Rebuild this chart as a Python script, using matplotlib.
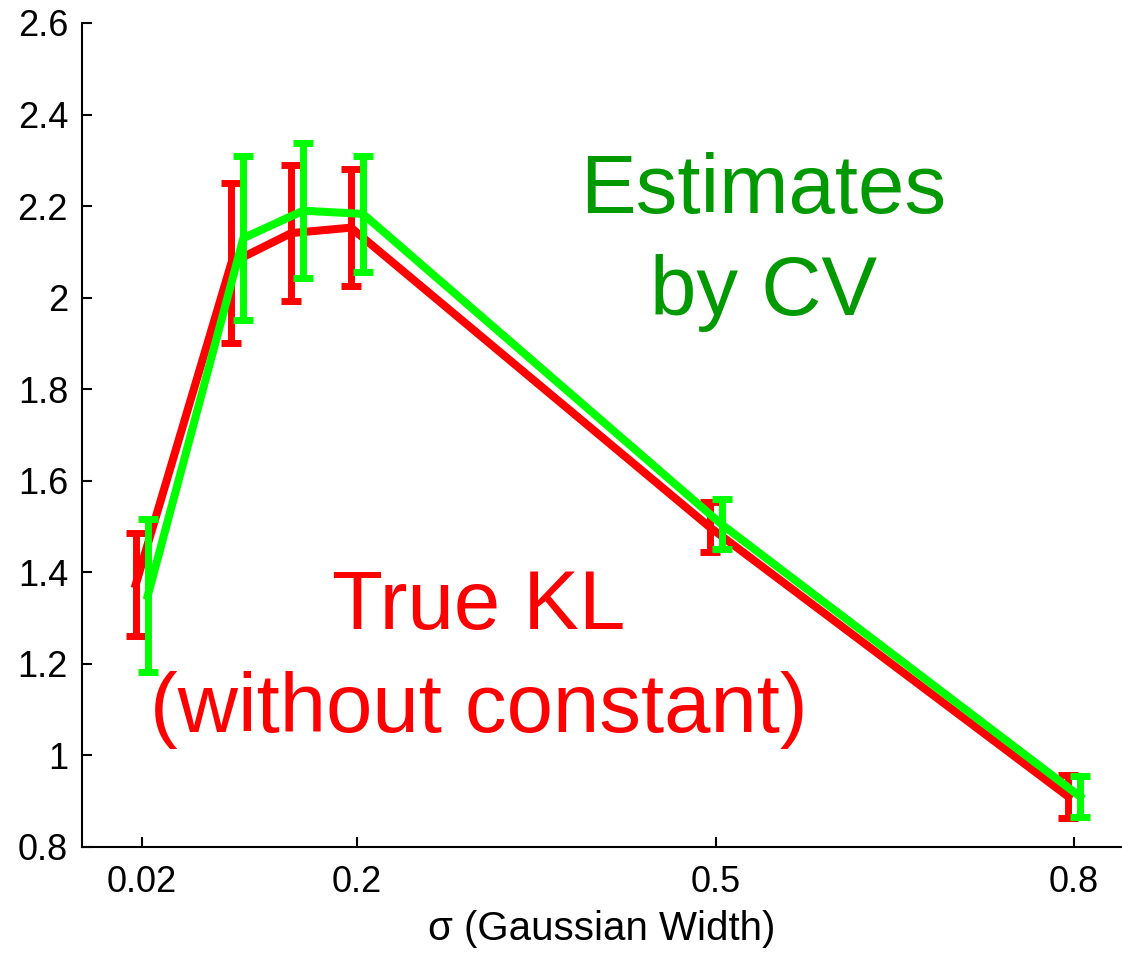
import matplotlib
matplotlib.use("Agg")
import matplotlib.pyplot as plt
from matplotlib.ticker import FuncFormatter

plt.rcParams['font.family'] = ['Liberation Sans', 'DejaVu Sans']

# Gaussian width values
sigma = [0.02, 0.1, 0.15, 0.2, 0.5, 0.8]

# True KL (without constant): mean and error-bar half-width
true_kl = [1.374, 2.076, 2.141, 2.153, 1.499, 0.910]
true_kl_err = [0.113, 0.175, 0.149, 0.128, 0.055, 0.047]

# Estimates by cross-validation: mean and error-bar half-width
cv_est = [1.349, 2.130, 2.190, 2.183, 1.505, 0.910]
cv_est_err = [0.167, 0.179, 0.147, 0.126, 0.055, 0.045]

xticks = [0.02, 0.2, 0.5, 0.8]
xtick_labels = ['0.02', '0.2', '0.5', '0.8']
yticks = [0.8, 1.0, 1.2, 1.4, 1.6, 1.8, 2.0, 2.2, 2.4, 2.6]

shift = 0.005  # small horizontal dodge so the two series' bars don't overlap

fig = plt.figure(figsize=(11.22, 9.57), dpi=100)
ax = fig.add_axes([82 / 1122, 110 / 957, 1040 / 1122, 824 / 957])

common = dict(linewidth=5.8, elinewidth=5.0, capsize=7.5, capthick=5.0)
ax.errorbar([s - shift for s in sigma], true_kl, yerr=true_kl_err,
            color='#ff0000', zorder=2, **common)
ax.errorbar([s + shift for s in sigma], cv_est, yerr=cv_est_err,
            color='#00ff00', zorder=3, **common)

ax.set_xlim(-0.030, 0.84)
ax.set_ylim(0.8, 2.6)
ax.set_xticks(xticks)
ax.set_xticklabels(xtick_labels)
ax.set_yticks(yticks)
ax.yaxis.set_major_formatter(FuncFormatter(lambda v, p: f'{v:g}'))

for side in ('top', 'right'):
    ax.spines[side].set_visible(False)
for side in ('left', 'bottom'):
    ax.spines[side].set_linewidth(1.5)

ax.tick_params(axis='both', direction='in', length=7, width=1.5,
               labelsize=26)
ax.tick_params(axis='y', pad=10)
ax.tick_params(axis='x', pad=13)

ax.set_xlabel('σ (Gaussian Width)', fontsize=29, labelpad=7)

# Series annotations
tkw = dict(fontsize=60, ha='center', va='baseline', transform=ax.transData)
ax.text(0.540, 2.185, 'Estimates', color='#009900', **tkw)
ax.text(0.540, 1.962, 'by CV', color='#009900', **tkw)
ax.text(0.302, 1.276, 'True KL', color='#ff0000', **tkw)
ax.text(0.302, 1.051, '(without constant)', color='#ff0000', **tkw)

fig.savefig('out.png', dpi=100)
